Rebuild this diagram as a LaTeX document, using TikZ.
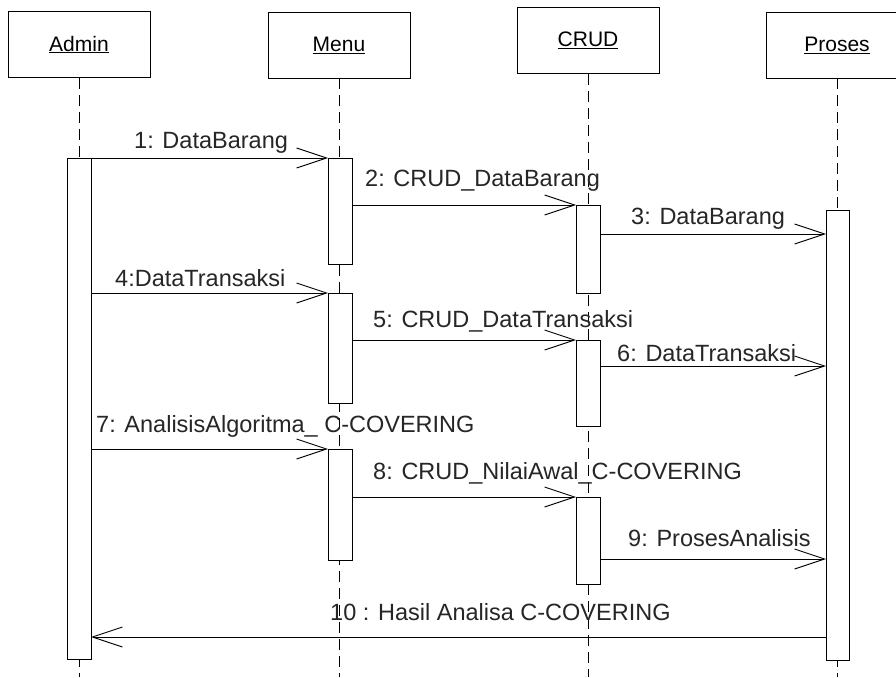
\documentclass[tikz,border=0pt]{standalone}
\usepackage{fontspec}
\setmainfont{Liberation Sans}
\usetikzlibrary{arrows.meta}
\tikzset{
  lifebox/.style={draw=black, line width=0.9pt, fill=white, minimum width=142pt, minimum height=66pt, inner sep=0pt, font=\fontsize{21}{24}\selectfont},
  actbar/.style={draw=black, line width=0.9pt, fill=white, minimum width=24pt, inner sep=0pt, anchor=north west},
  lifeline/.style={draw=black, line width=0.9pt, dash pattern=on 11pt off 6pt},
  msg/.style={draw=black, line width=0.9pt, -{Straight Barb[length=30pt,width=20pt,line width=0.9pt]}},
  msglabel/.style={anchor=base west, inner sep=0pt, font=\fontsize{23.5}{26}\selectfont, text=black!85}
}
\begin{document}
\begin{tikzpicture}[x=1pt,y=-1pt]
\clip (0,0) rectangle (896,677);
\fill[white] (0,0) rectangle (896,677);
% lifeline heads
\node[lifebox] (admin) at (79,44.5) {\underline{Admin}};
\node[lifebox] (menu) at (339,45) {\underline{Menu}};
\node[lifebox] (crud) at (588,40.5) {\underline{CRUD}};
\node[lifebox] (proses) at (837,45) {\underline{Proses}};
% lifeline ends
\coordinate (adminend) at (79,677);
\coordinate (menuend) at (339,677);
\coordinate (crudend) at (588,677);
\coordinate (prosesend) at (837,677);
\draw[lifeline] (admin.south) -- (adminend);
\draw[lifeline] (menu.south) -- (menuend);
\draw[lifeline] (crud.south) -- (crudend);
\draw[lifeline] (proses.south) -- (prosesend);
% activation bars
\node[actbar, minimum height=501pt] (abar) at (67,158) {};
\node[actbar, minimum height=106pt] (mbar1) at (328,158) {};
\node[actbar, minimum height=110pt] (mbar2) at (328,293) {};
\node[actbar, minimum height=111pt] (mbar3) at (328,449) {};
\node[actbar, minimum height=88pt] (cbar1) at (576,205) {};
\node[actbar, minimum height=86pt] (cbar2) at (576,340) {};
\node[actbar, minimum height=87pt] (cbar3) at (576,497) {};
\node[actbar, minimum width=23pt, minimum height=450pt] (pbar) at (826,210) {};
% message coordinates
\coordinate (m3s) at (600,234); \coordinate (m3e) at (826,234);
\coordinate (m5s) at (352,340);
\coordinate (m6s) at (600,366); \coordinate (m6e) at (826,366);
\coordinate (m8s) at (352,497);
\coordinate (m9s) at (600,559); \coordinate (m9e) at (826,559);
\coordinate (m10s) at (826,637); \coordinate (m10e) at (91,637);
% messages
\draw[msg] (abar.east |- mbar1.north) -- (mbar1.north west);
\draw[msg] (mbar1.east |- cbar1.north) -- (cbar1.north west);
\draw[msg] (m3s) -- (m3e);
\draw[msg] (abar.east |- mbar2.north) -- (mbar2.north west);
\draw[msg] (m5s) -- (cbar2.north west);
\draw[msg] (m6s) -- (m6e);
\draw[msg] (abar.east |- mbar3.north) -- (mbar3.north west);
\draw[msg] (m8s) -- (cbar3.north west);
\draw[msg] (m9s) -- (m9e);
\draw[msg] (m10s) -- (m10e);
% labels
\node[msglabel] (l1) at (134,148) {1: DataBarang};
\node[msglabel] (l2) at (365,186) {2: CRUD\_DataBarang};
\node[msglabel] (l3) at (631,224) {3: DataBarang};
\node[msglabel] (l4) at (115,286) {4:DataTransaksi};
\node[msglabel] (l5) at (373,327) {5: CRUD\_DataTransaksi};
\node[msglabel] (l6) at (617,361) {6: DataTransaksi};
\node[msglabel] (l7) at (96,432) {7: AnalisisAlgoritma\_ C-COVERING};
\node[msglabel] (l8) at (373,479) {8: CRUD\_NilaiAwal\_C-COVERING};
\node[msglabel] (l9) at (628,546) {9: ProsesAnalisis};
\node[msglabel] (l10) at (330,620) {10 : Hasil Analisa C-COVERING};
\end{tikzpicture}
\end{document}
